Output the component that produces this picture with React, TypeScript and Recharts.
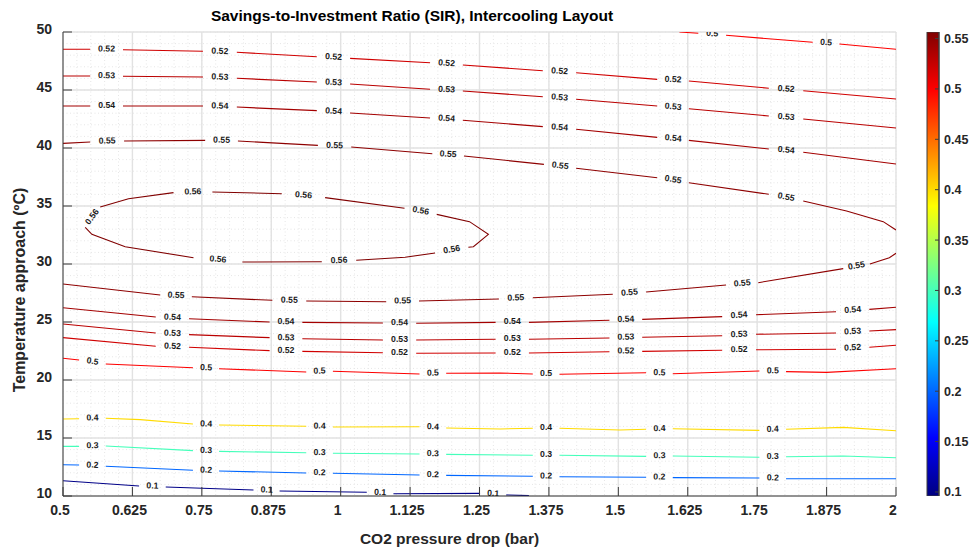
import React from 'react';
import {
  ComposedChart,
  Line,
  Scatter,
  XAxis,
  YAxis,
  CartesianGrid,
  Label,
  BarChart,
  Bar,
} from 'recharts';

type Pt = [number, number];
type Seg = Pt[];

// ---- axes ----
const xTicks = [0.5, 0.625, 0.75, 0.875, 1, 1.125, 1.25, 1.375, 1.5, 1.625, 1.75, 1.875, 2];
const yTicks = [10, 15, 20, 25, 30, 35, 40, 45, 50];
const X_DOMAIN: [number, number] = [0.5, 2];
const Y_DOMAIN: [number, number] = [10, 50];

// ---- colour scale ----
const colorRange: [number, number] = [0.096, 0.5565];
const colorbarTicks = [0.1, 0.15, 0.2, 0.25, 0.3, 0.35, 0.4, 0.45, 0.5, 0.55];

// ---- SIR contour lines: segments broken where the level labels sit ----
const sir050Upper: Seg[] = [
  [[1.61, 50], [1.644, 49.89]],
  [[1.694, 49.72], [1.85, 49.11]],
  [[1.898, 48.97], [2.0, 48.51]],
];

const sir052Upper: Seg[] = [
  [[0.5, 48.51], [0.549, 48.51]],
  [[0.608, 48.47], [0.752, 48.34]],
  [[0.813, 48.25], [0.957, 47.87]],
  [[1.017, 47.73], [1.161, 47.35]],
  [[1.22, 47.16], [1.364, 46.66]],
  [[1.424, 46.49], [1.57, 45.92]],
  [[1.627, 45.78], [1.771, 45.15]],
  [[1.833, 44.94], [2.0, 44.22]],
];

const sir053Upper: Seg[] = [
  [[0.5, 46.21], [0.549, 46.21]],
  [[0.608, 46.18], [0.752, 46.12]],
  [[0.813, 46.01], [0.957, 45.69]],
  [[1.017, 45.52], [1.161, 45.06]],
  [[1.22, 44.91], [1.364, 44.42]],
  [[1.424, 44.2], [1.57, 43.62]],
  [[1.627, 43.39], [1.771, 42.76]],
  [[1.833, 42.5], [2.0, 41.72]],
];

const sir054Upper: Seg[] = [
  [[0.5, 43.62], [0.549, 43.62]],
  [[0.608, 43.62], [0.752, 43.62]],
  [[0.813, 43.53], [0.957, 43.22]],
  [[1.017, 43.02], [1.161, 42.59]],
  [[1.22, 42.39], [1.364, 41.84]],
  [[1.424, 41.61], [1.57, 40.92]],
  [[1.627, 40.66], [1.771, 39.91]],
  [[1.833, 39.63], [2.0, 38.62]],
];

const sir055Upper: Seg[] = [
  [[0.5, 40.4], [0.549, 40.52]],
  [[0.61, 40.6], [0.756, 40.66]],
  [[0.815, 40.6], [0.959, 40.23]],
  [[1.019, 40.09], [1.165, 39.51]],
  [[1.222, 39.31], [1.366, 38.59]],
  [[1.424, 38.25], [1.57, 37.44]],
  [[1.627, 37.01], [1.771, 36.01]],
  [[1.833, 35.43], [1.911, 34.57], [1.977, 33.65], [2.0, 32.93]],
];

// closed loop around the SIR maximum
const sir056Loop: Seg[] = [
  [[0.54, 33.16], [0.552, 32.56], [0.612, 31.49], [0.735, 30.54]],
  [[0.823, 30.17], [0.966, 30.2]],
  [[1.028, 30.32], [1.116, 30.58], [1.17, 30.95]],
  [[1.23, 31.44], [1.239, 31.49], [1.266, 32.56], [1.232, 33.65], [1.173, 34.28]],
  [[1.115, 34.8], [0.972, 35.72]],
  [[0.894, 36.06], [0.769, 36.21]],
  [[0.699, 36.15], [0.618, 35.63], [0.567, 34.91]],
];

const sir055Lower: Seg[] = [
  [[2.0, 30.92], [1.988, 30.54], [1.953, 30.0]],
  [[1.905, 29.6], [1.752, 28.39]],
  [[1.694, 28.19], [1.55, 27.59]],
  [[1.49, 27.39], [1.346, 27.09]],
  [[1.285, 26.98], [1.141, 26.81]],
  [[1.082, 26.75], [0.938, 26.81]],
  [[0.877, 26.87], [0.732, 27.18]],
  [[0.675, 27.33], [0.5, 28.28]],
];

const sir054Lower: Seg[] = [
  [[0.5, 26.23], [0.667, 25.43]],
  [[0.727, 25.28], [0.872, 25.0]],
  [[0.931, 24.97], [1.076, 24.91]],
  [[1.136, 24.89], [1.279, 24.97]],
  [[1.339, 24.97], [1.484, 25.15]],
  [[1.543, 25.23], [1.687, 25.46]],
  [[1.748, 25.63], [1.892, 25.89]],
  [[1.952, 26.09], [2.0, 26.27]],
];

const sir053Lower: Seg[] = [
  [[0.5, 24.83], [0.667, 24.05]],
  [[0.727, 23.91], [0.872, 23.65]],
  [[0.931, 23.56], [1.076, 23.45]],
  [[1.136, 23.45], [1.279, 23.51]],
  [[1.339, 23.51], [1.484, 23.62]],
  [[1.543, 23.68], [1.687, 23.82]],
  [[1.748, 23.94], [1.892, 24.05]],
  [[1.952, 24.22], [2.0, 24.34]],
];

const sir052Lower: Seg[] = [
  [[0.5, 23.65], [0.667, 22.91]],
  [[0.727, 22.82], [0.872, 22.53]],
  [[0.931, 22.47], [1.076, 22.35]],
  [[1.136, 22.3], [1.279, 22.33]],
  [[1.339, 22.33], [1.484, 22.44]],
  [[1.543, 22.47], [1.687, 22.56]],
  [[1.748, 22.61], [1.892, 22.65]],
  [[1.952, 22.82], [2.0, 22.99]],
];

const sir050Lower: Seg[] = [
  [[0.5, 21.87], [0.529, 21.72]],
  [[0.577, 21.38], [0.734, 21.06]],
  [[0.781, 20.97], [0.938, 20.69]],
  [[0.986, 20.75], [1.142, 20.52]],
  [[1.19, 20.58], [1.287, 20.6], [1.346, 20.52]],
  [[1.394, 20.5], [1.55, 20.63]],
  [[1.598, 20.54], [1.754, 20.78]],
  [[1.802, 20.72], [1.875, 20.66], [2.0, 20.97]],
];

const sir040: Seg[] = [
  [[0.5, 16.64], [0.529, 16.66]],
  [[0.577, 16.7], [0.639, 16.58], [0.734, 16.21]],
  [[0.781, 16.12], [0.938, 16.01]],
  [[0.986, 15.95], [1.142, 15.97]],
  [[1.19, 15.86], [1.287, 15.78], [1.346, 15.84]],
  [[1.394, 15.84], [1.503, 15.69], [1.55, 15.75]],
  [[1.598, 15.8], [1.754, 15.66]],
  [[1.802, 15.75], [1.905, 15.92], [2.0, 15.63]],
];

const sir030: Seg[] = [
  [[0.5, 14.28], [0.529, 14.28]],
  [[0.577, 14.31], [0.734, 13.91]],
  [[0.781, 13.85], [0.938, 13.73]],
  [[0.986, 13.68], [1.142, 13.62]],
  [[1.19, 13.59], [1.346, 13.51]],
  [[1.394, 13.51], [1.55, 13.42]],
  [[1.598, 13.45], [1.754, 13.34]],
  [[1.802, 13.39], [1.905, 13.45], [2.0, 13.3]],
];

const sir020: Seg[] = [
  [[0.5, 12.7], [0.529, 12.67]],
  [[0.577, 12.56], [0.734, 12.22]],
  [[0.781, 12.16], [0.938, 11.98]],
  [[0.986, 11.96], [1.142, 11.81]],
  [[1.19, 11.78], [1.346, 11.7]],
  [[1.394, 11.66], [1.55, 11.61]],
  [[1.598, 11.58], [1.754, 11.55]],
  [[1.802, 11.49], [2.0, 11.49]],
];

const sir010: Seg[] = [
  [[0.5, 11.32], [0.637, 10.86]],
  [[0.685, 10.78], [0.843, 10.52]],
  [[0.89, 10.43], [1.047, 10.32]],
  [[1.095, 10.2], [1.251, 10.23]],
  [[1.298, 10.09], [1.339, 10.03]],
];

const contourSets: { level: number; segs: Seg[]; closed?: boolean }[] = [
  { level: 0.5, segs: sir050Upper },
  { level: 0.52, segs: sir052Upper },
  { level: 0.53, segs: sir053Upper },
  { level: 0.54, segs: sir054Upper },
  { level: 0.55, segs: sir055Upper },
  { level: 0.56, segs: sir056Loop, closed: true },
  { level: 0.55, segs: sir055Lower },
  { level: 0.54, segs: sir054Lower },
  { level: 0.53, segs: sir053Lower },
  { level: 0.52, segs: sir052Lower },
  { level: 0.5, segs: sir050Lower },
  { level: 0.4, segs: sir040 },
  { level: 0.3, segs: sir030 },
  { level: 0.2, segs: sir020 },
  { level: 0.1, segs: sir010 },
];

// ---- layout ----
const WIDTH = 971;
const HEIGHT = 551;
const PLOT_LEFT = 63;
const PLOT_TOP = 32;
const PLOT_RIGHT = 896;
const PLOT_BOTTOM = 496;
const PX_PER_X = (PLOT_RIGHT - PLOT_LEFT) / (X_DOMAIN[1] - X_DOMAIN[0]);
const PX_PER_Y = (PLOT_BOTTOM - PLOT_TOP) / (Y_DOMAIN[1] - Y_DOMAIN[0]);

const FONT = "'Liberation Sans', Arial, Helvetica, sans-serif";
const AXIS = '#3c3c3c';
const TEXT = '#262626';

// jet colormap
const clamp01 = (v: number) => Math.max(0, Math.min(1, v));
function jet(t: number): string {
  const r = clamp01(Math.min(4 * t - 1.5, -4 * t + 4.5));
  const g = clamp01(Math.min(4 * t - 0.5, -4 * t + 3.5));
  const b = clamp01(Math.min(4 * t + 0.5, -4 * t + 2.5));
  const h = (v: number) => Math.round(v * 255).toString(16).padStart(2, '0');
  return `#${h(r)}${h(g)}${h(b)}`;
}
const levelColor = (level: number) =>
  jet(clamp01((level - colorRange[0]) / (colorRange[1] - colorRange[0])));

const jetStops = [0, 0.125, 0.375, 0.625, 0.875, 1];

// line points with null breaks between segments
function toLinePoints(segs: Seg[]) {
  const out: { x: number; y: number | null }[] = [];
  segs.forEach((seg, i) => {
    if (i > 0) {
      const prev = segs[i - 1];
      const a = prev[prev.length - 1];
      out.push({ x: (a[0] + seg[0][0]) / 2, y: null });
    }
    seg.forEach(([x, y]) => out.push({ x, y }));
  });
  return out;
}

// one label per break, rotated along the local direction of the line
function toLabels(level: number, segs: Seg[], closed?: boolean) {
  const res: { x: number; y: number; level: number; angle: number }[] = [];
  const n = segs.length;
  const count = closed ? n : n - 1;
  for (let i = 0; i < count; i++) {
    const s = segs[i];
    const a = s[s.length - 1];
    const b = segs[(i + 1) % n][0];
    const dx = (b[0] - a[0]) * PX_PER_X;
    const dy = -(b[1] - a[1]) * PX_PER_Y;
    let ang = (Math.atan2(dy, dx) * 180) / Math.PI;
    if (ang > 90) ang -= 180;
    if (ang < -90) ang += 180;
    res.push({ x: (a[0] + b[0]) / 2, y: (a[1] + b[1]) / 2, level, angle: ang });
  }
  return res;
}

const contourLines = contourSets.map((c) => ({
  level: c.level,
  color: levelColor(c.level),
  points: toLinePoints(c.segs),
}));
const contourLabels = contourSets.flatMap((c) => toLabels(c.level, c.segs, c.closed));

const minorX: number[] = [];
for (let i = 0; i <= 60; i++) minorX.push(0.5 + i * 0.025);
const minorY: number[] = [];
for (let v = 10; v <= 50; v++) minorY.push(v);

const colorbarData = [{ name: 'SIR', span: colorRange }];

// ---- renderers ----
const ContourLabel = (props: any) => {
  const { cx, cy, payload } = props;
  if (cx == null || cy == null) return null;
  return (
    <g transform={`translate(${cx},${cy}) rotate(${payload.angle})`}>
      <text
        x={0}
        y={0}
        dy={-1}
        textAnchor="middle"
        dominantBaseline="central"
        fontSize={8.7}
        fontWeight="bold"
        fill="#1a1a1a"
        fontFamily={FONT}
      >
        {payload.level}
      </text>
    </g>
  );
};

const XTick = (props: any) => {
  const { x, y, payload } = props;
  return (
    <text x={x - 3} y={y + 10} textAnchor="middle" fontSize={14} fontWeight="bold" fill={TEXT} fontFamily={FONT}>
      {payload.value}
    </text>
  );
};

const YTick = (props: any) => {
  const { x, y, payload } = props;
  return (
    <text x={x} y={y + 1.5} textAnchor="end" fontSize={14} fontWeight="bold" fill={TEXT} fontFamily={FONT}>
      {payload.value}
    </text>
  );
};

const CTick = (props: any) => {
  const { x, y, payload } = props;
  return (
    <text x={x} y={y + 4.5} textAnchor="start" fontSize={12.5} fontWeight="bold" fill={TEXT} fontFamily={FONT}>
      {payload.value}
    </text>
  );
};

const TitleText = () => (
  <text x={412} y={21} textAnchor="middle" fontSize={15.5} fontWeight="bold" fill="#000" fontFamily={FONT}>
    Savings-to-Investment Ratio (SIR), Intercooling Layout
  </text>
);

const XTitle = () => (
  <text x={449.5} y={543.5} textAnchor="middle" fontSize={15.5} fontWeight="bold" fill={TEXT} fontFamily={FONT}>
    CO2 pressure drop (bar)
  </text>
);

const YTitle = () => (
  <text
    transform="translate(19,290) rotate(-90)"
    textAnchor="middle"
    dominantBaseline="central"
    fontSize={16}
    fontWeight="bold"
    fill={TEXT}
    fontFamily={FONT}
  >
    Temperature approach (ºC)
  </text>
);

export default function App() {
  return (
    <div style={{ position: 'absolute', left: 0, top: 0, width: WIDTH, height: HEIGHT, background: '#fff' }}>
      <div style={{ position: 'absolute', left: 0, top: 0 }}>
        <ComposedChart
          width={WIDTH}
          height={HEIGHT}
          margin={{ top: PLOT_TOP, right: WIDTH - PLOT_RIGHT, bottom: 0, left: 0 }}
        >
          <CartesianGrid
            stroke="#e6e6e6"
            strokeDasharray="1 2.5"
            horizontalValues={minorY}
            verticalValues={minorX}
          />
          <CartesianGrid stroke="#e2e2e2" strokeWidth={1.4} horizontalValues={yTicks} verticalValues={xTicks} />
          <XAxis
            dataKey="x"
            type="number"
            domain={X_DOMAIN}
            ticks={xTicks}
            allowDataOverflow
            interval={0}
            height={HEIGHT - PLOT_BOTTOM}
            tickSize={-9}
            tickMargin={18}
            axisLine={{ stroke: AXIS }}
            tickLine={{ stroke: AXIS }}
            tick={XTick}
          >
            <Label content={XTitle} />
          </XAxis>
          <XAxis
            xAxisId="top"
            orientation="top"
            type="number"
            domain={X_DOMAIN}
            ticks={xTicks}
            allowDataOverflow
            interval={0}
            height={0}
            tickSize={-9}
            axisLine={{ stroke: AXIS }}
            tickLine={{ stroke: AXIS }}
            tick={false}
          />
          <YAxis
            type="number"
            domain={Y_DOMAIN}
            ticks={yTicks}
            allowDataOverflow
            interval={0}
            width={PLOT_LEFT}
            tickSize={-9}
            tickMargin={20}
            axisLine={{ stroke: AXIS }}
            tickLine={{ stroke: AXIS }}
            tick={YTick}
          >
            <Label content={YTitle} />
            <Label content={TitleText} />
          </YAxis>
          <YAxis
            yAxisId="right"
            orientation="right"
            type="number"
            domain={Y_DOMAIN}
            ticks={yTicks}
            allowDataOverflow
            interval={0}
            width={0}
            tickSize={-9}
            axisLine={{ stroke: AXIS }}
            tickLine={{ stroke: AXIS }}
            tick={false}
          />
          {contourLines.map((c, i) => (
            <Line
              key={`c${i}`}
              data={c.points}
              dataKey="y"
              type="linear"
              stroke={c.color}
              strokeWidth={1.1}
              dot={false}
              activeDot={false}
              connectNulls={false}
              isAnimationActive={false}
            />
          ))}
          <Scatter data={contourLabels} dataKey="y" shape={ContourLabel} isAnimationActive={false} />
        </ComposedChart>
      </div>
      <div style={{ position: 'absolute', left: 920, top: 0 }}>
        <BarChart
          width={51}
          height={HEIGHT}
          data={colorbarData}
          margin={{ top: PLOT_TOP, right: 0, bottom: HEIGHT - PLOT_BOTTOM, left: 7 }}
          barCategoryGap={0}
        >
          <defs>
            <linearGradient id="jetScale" x1="0" y1="1" x2="0" y2="0">
              {jetStops.map((t) => (
                <stop key={t} offset={t} stopColor={jet(t)} />
              ))}
            </linearGradient>
          </defs>
          <XAxis dataKey="name" hide />
          <YAxis
            orientation="right"
            type="number"
            domain={colorRange}
            ticks={colorbarTicks}
            allowDataOverflow
            interval={0}
            width={32}
            tickSize={-4}
            tickMargin={9}
            axisLine={{ stroke: AXIS }}
            tickLine={{ stroke: AXIS }}
            tick={CTick}
          />
          <Bar dataKey="span" fill="url(#jetScale)" stroke={AXIS} strokeWidth={1} isAnimationActive={false} />
        </BarChart>
      </div>
    </div>
  );
}
